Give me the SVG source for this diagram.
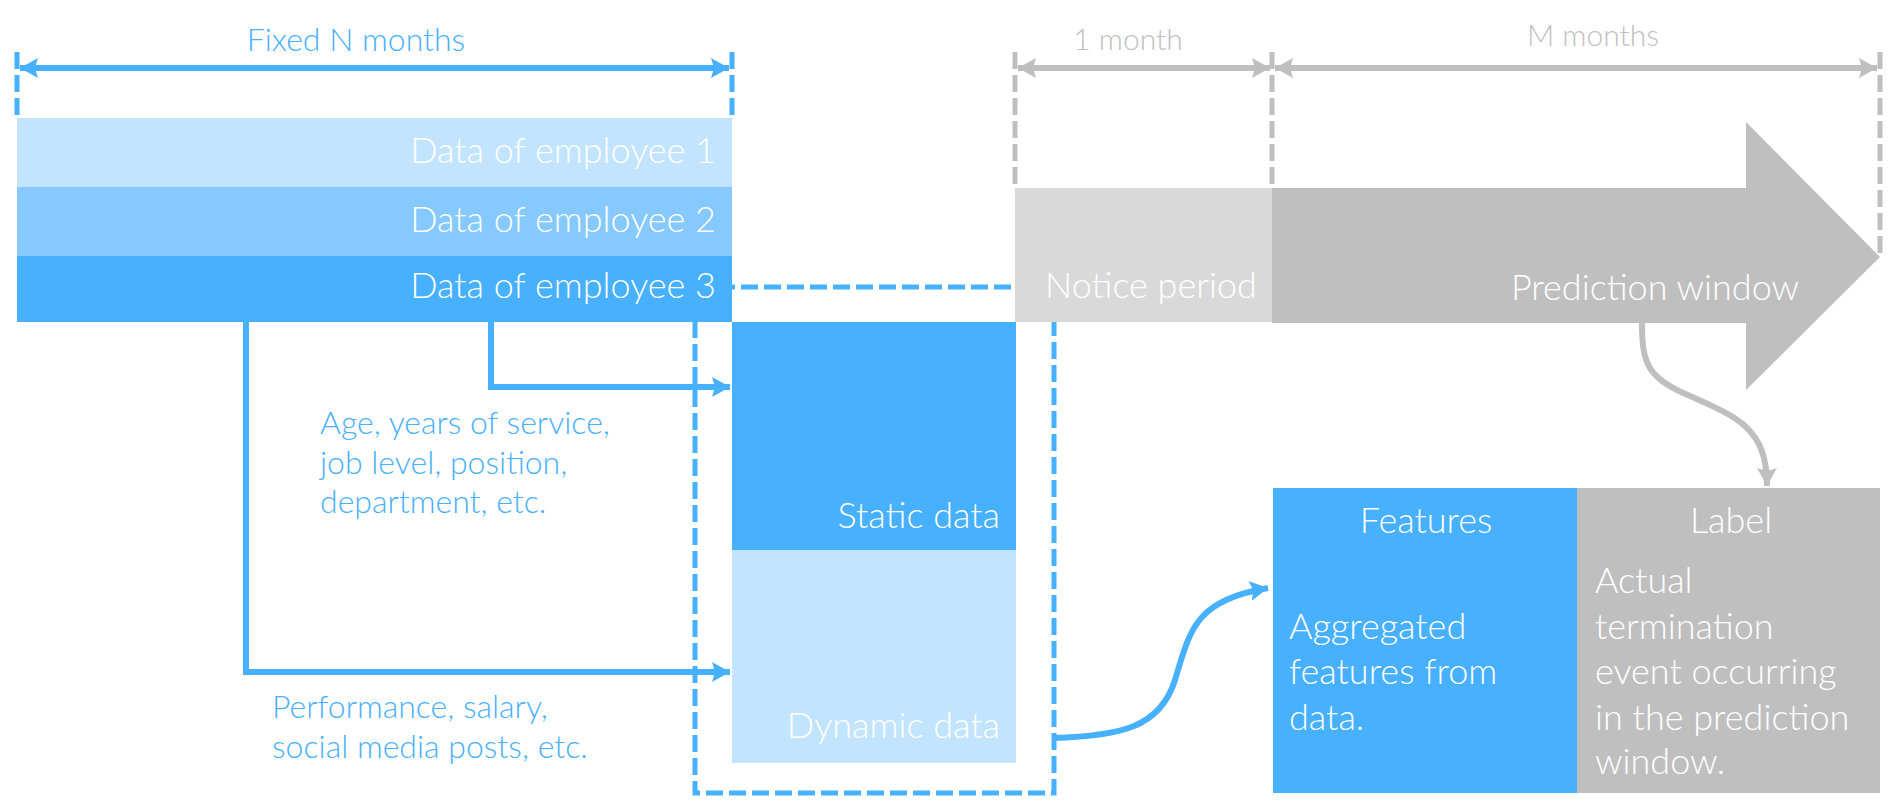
<svg xmlns="http://www.w3.org/2000/svg" width="1902" height="806" viewBox="0 0 1902 806">
  <style>
    text { font-family: "Lato", "Open Sans", "Liberation Sans", sans-serif; font-weight: 300; }
    .w { fill: #FFFFFF; }
    .b { fill: #47B0FF; }
    .g { fill: #BFBFBF; }
    .box { font-size: 36px; }
    .ann { font-size: 32px; }
    .dim { font-size: 30px; }
    .dashB { fill: none; stroke: #47B0FF; stroke-width: 5; stroke-dasharray: 17 6; }
    .dashG { fill: none; stroke: #BFBFBF; stroke-width: 5; stroke-dasharray: 17 6; }
    .lineB { fill: none; stroke: #47B0FF; stroke-width: 6; }
    .lineG { fill: none; stroke: #BFBFBF; stroke-width: 6; }
  </style>
  <defs>
    <marker id="arrB" markerUnits="userSpaceOnUse" markerWidth="20" markerHeight="20" viewBox="0 0 20 20" refX="18" refY="10" orient="auto-start-reverse">
      <path d="M0,0 L18,10 L0,20 L3,10 Z" fill="#47B0FF"/>
    </marker>
    <marker id="arrG" markerUnits="userSpaceOnUse" markerWidth="20" markerHeight="20" viewBox="0 0 20 20" refX="18" refY="10" orient="auto-start-reverse">
      <path d="M0,0 L18,10 L0,20 L3,10 Z" fill="#BFBFBF"/>
    </marker>
  </defs>

  <!-- dashed grouping box (behind) -->
  <g id="group-box">
    <rect class="dashB" x="695" y="287" width="359" height="506"/>
  </g>

  <!-- dimension lines -->
  <g id="dimensions">
    <line class="dashB" x1="17" y1="52" x2="17" y2="118" stroke-width="6"/>
    <line class="dashB" x1="732" y1="52" x2="732" y2="118" stroke-width="6"/>
    <line class="lineB" x1="20" y1="68" x2="729" y2="68" marker-start="url(#arrB)" marker-end="url(#arrB)"/>
    <text class="b" x="356" y="51" text-anchor="middle" font-size="32">Fixed N months</text>

    <line class="dashG" x1="1015" y1="52" x2="1015" y2="188"/>
    <line class="dashG" x1="1272" y1="52" x2="1272" y2="188"/>
    <line class="dashG" x1="1880" y1="52" x2="1880" y2="257"/>
    <line class="lineG" x1="1018" y1="68" x2="1270" y2="68" marker-start="url(#arrG)" marker-end="url(#arrG)"/>
    <line class="lineG" x1="1275" y1="68" x2="1877" y2="68" marker-start="url(#arrG)" marker-end="url(#arrG)"/>
    <text class="g dim" x="1128" y="50" text-anchor="middle">1 month</text>
    <text class="g dim" x="1593" y="46" text-anchor="middle">M months</text>
  </g>

  <!-- employee data rows -->
  <g id="employee-1">
    <rect x="17" y="118" width="715" height="69" fill="#C2E4FF"/>
    <text class="w box" x="716" y="163" text-anchor="end">Data of employee 1</text>
  </g>
  <g id="employee-2">
    <rect x="17" y="187" width="715" height="69" fill="#85C9FF"/>
    <text class="w box" x="716" y="232" text-anchor="end">Data of employee 2</text>
  </g>
  <g id="employee-3">
    <rect x="17" y="256" width="715" height="66" fill="#47B0FF"/>
    <text class="w box" x="716" y="298" text-anchor="end">Data of employee 3</text>
  </g>

  <!-- notice period -->
  <g id="notice-period">
    <rect x="1015" y="188" width="257" height="134" fill="#D9D9D9"/>
    <text class="w box" x="1151" y="298" text-anchor="middle">Notice period</text>
  </g>

  <!-- prediction window -->
  <g id="prediction-window">
    <path d="M1272,188 H1746 V122 L1880,257 L1746,390 V323 H1272 Z" fill="#BFBFBF"/>
    <text class="w box" x="1655" y="300" text-anchor="middle">Prediction window</text>
  </g>

  <!-- static / dynamic data -->
  <g id="static-data">
    <rect x="732" y="322" width="284" height="228" fill="#47B0FF"/>
    <text class="w box" x="1000" y="528" text-anchor="end">Static data</text>
  </g>
  <g id="dynamic-data">
    <rect x="732" y="550" width="284" height="213" fill="#C2E4FF"/>
    <text class="w box" x="1000" y="738" text-anchor="end">Dynamic data</text>
  </g>

  <!-- annotations -->
  <g id="static-annotation">
    <text class="b ann" x="320" y="434">Age, years of service,</text>
    <text class="b ann" x="320" y="474">job level, position,</text>
    <text class="b ann" x="320" y="513">department, etc.</text>
  </g>
  <g id="dynamic-annotation">
    <text class="b ann" x="272" y="718">Performance, salary,</text>
    <text class="b ann" x="272" y="758">social media posts, etc.</text>
  </g>

  <!-- features / label -->
  <g id="features">
    <rect x="1273" y="488" width="304" height="305" fill="#47B0FF"/>
    <text class="w box" x="1426" y="533" text-anchor="middle">Features</text>
    <text class="w box" x="1289" y="639">Aggregated</text>
    <text class="w box" x="1289" y="684">features from</text>
    <text class="w box" x="1289" y="730">data.</text>
  </g>
  <g id="label">
    <rect x="1577" y="488" width="303" height="305" fill="#BFBFBF"/>
    <text class="w box" x="1731" y="533" text-anchor="middle">Label</text>
    <text class="w box" x="1595" y="593">Actual</text>
    <text class="w box" x="1595" y="639">termination</text>
    <text class="w box" x="1595" y="684">event occurring</text>
    <text class="w box" x="1595" y="730">in the prediction</text>
    <text class="w box" x="1595" y="774">window.</text>
  </g>

  <!-- connectors -->
  <g id="connectors">
    <path class="lineB" d="M491,322 V387 H730" marker-end="url(#arrB)"/>
    <path class="lineB" d="M246,322 V672 H730" marker-end="url(#arrB)"/>
    <path class="lineB" d="M1053,738 C1120,736 1160,728 1175,680 C1190,630 1195,600 1268,588" marker-end="url(#arrB)"/>
    <path class="lineG" d="M1642,323 C1642,365 1648,378 1690,396 C1740,418 1767,430 1767,486" marker-end="url(#arrG)" stroke-width="5"/>
  </g>
</svg>
